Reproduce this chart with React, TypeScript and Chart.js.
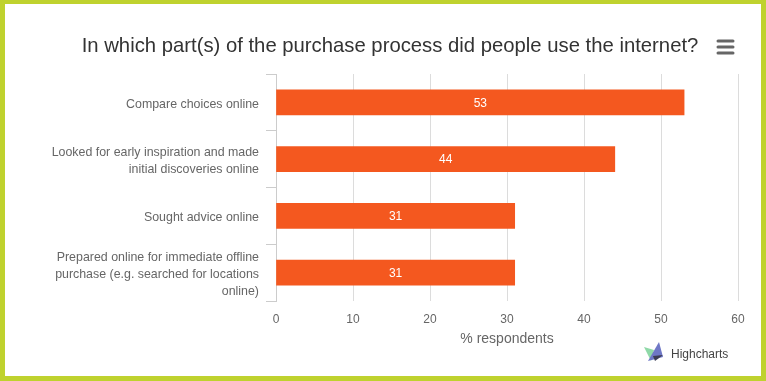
import React, { useEffect, useRef } from "react";
import { Chart, registerables } from "chart.js";

Chart.register(...registerables);

const chartTitle = "In which part(s) of the purchase process did people use the internet?";
const categories: string[][] = [
  ["Compare choices online"],
  ["Looked for early inspiration and made", "initial discoveries online"],
  ["Sought advice online"],
  ["Prepared online for immediate offline", "purchase (e.g. searched for locations", "online)"],
];
const values = [53, 44, 31, 31];
const xMin = 0;
const xMax = 60;
const xStep = 10;
const xAxisTitle = "% respondents";
const creditText = "Highcharts";

const FONT = "'Liberation Sans', Arial, sans-serif";
const BAR_COLOR = "#F4581F";

const decorPlugin = {
  id: "decor",
  afterDraw(chart: any) {
    const ctx = chart.ctx;
    ctx.save();
    // title
    ctx.fillStyle = "#333333";
    ctx.font = `20.3px ${FONT}`;
    ctx.textAlign = "center";
    ctx.textBaseline = "alphabetic";
    ctx.fillText(chartTitle, 390, 52);
    // menu icon
    ctx.strokeStyle = "#666666";
    ctx.lineWidth = 3;
    ctx.lineCap = "round";
    [41, 47, 53].forEach((y) => {
      ctx.beginPath();
      ctx.moveTo(718, y);
      ctx.lineTo(733, y);
      ctx.stroke();
    });
    // credits logo
    ctx.fillStyle = "#8fd9a8";
    ctx.beginPath();
    ctx.moveTo(644, 347);
    ctx.lineTo(654, 350);
    ctx.lineTo(651, 361);
    ctx.closePath();
    ctx.fill();
    ctx.fillStyle = "#6f78c6";
    ctx.beginPath();
    ctx.moveTo(648, 361);
    ctx.lineTo(659, 342);
    ctx.lineTo(663, 357);
    ctx.closePath();
    ctx.fill();
    ctx.fillStyle = "#3d3d55";
    ctx.beginPath();
    ctx.moveTo(653, 356);
    ctx.lineTo(663, 355);
    ctx.lineTo(655, 361);
    ctx.closePath();
    ctx.fill();
    // credits text
    ctx.fillStyle = "#444444";
    ctx.font = `12px ${FONT}`;
    ctx.textAlign = "left";
    ctx.fillText(creditText, 671, 358);
    ctx.restore();
  },
};

const barLabelPlugin = {
  id: "barLabels",
  afterDatasetsDraw(chart: any) {
    const ctx = chart.ctx;
    const meta = chart.getDatasetMeta(0);
    ctx.save();
    ctx.fillStyle = "#ffffff";
    ctx.font = `12px ${FONT}`;
    ctx.textAlign = "center";
    ctx.textBaseline = "middle";
    meta.data.forEach((bar: any, i: number) => {
      const cx = (bar.x + bar.base) / 2;
      ctx.fillText(String(chart.data.datasets[0].data[i]), cx, bar.y + 1);
    });
    ctx.restore();
  },
};

export default function App() {
  const ref = useRef<HTMLCanvasElement>(null);
  useEffect(() => {
    if (!ref.current) return;
    const chart = new Chart(ref.current, {
      type: "bar",
      data: {
        labels: categories,
        datasets: [
          {
            data: values,
            backgroundColor: BAR_COLOR,
            borderWidth: 0,
            barThickness: 25,
          },
        ],
      },
      options: {
        indexAxis: "y",
        responsive: false,
        animation: false,
        layout: { padding: { left: 0, right: 28, top: 74, bottom: 0 } },
        plugins: {
          legend: { display: false },
          tooltip: { enabled: false },
          title: { display: false },
        },
        scales: {
          x: {
            min: xMin,
            max: xMax,
            ticks: {
              stepSize: xStep,
              color: "#666666",
              font: { family: FONT, size: 12 },
              padding: 11,
            },
            grid: {
              color: "#dcdcdc",
              drawTicks: false,
            },
            border: { display: false },
            title: {
              display: true,
              text: xAxisTitle,
              color: "#666666",
              font: { family: FONT, size: 14 },
              padding: { top: 0, bottom: 33 },
            },
            afterFit: (scale: any) => {
              scale.height = 80;
            },
          },
          y: {
            ticks: {
              color: "#666666",
              font: { family: FONT, size: 12.4, lineHeight: 1.35 },
              padding: 7,
              labelOffset: 2,
            },
            grid: {
              offset: true,
              drawOnChartArea: false,
              drawTicks: true,
              tickLength: 10,
              color: "#cccccc",
            },
            border: { display: true, color: "#cccccc" },
            afterFit: (scale: any) => {
              scale.width = 276;
            },
          },
        },
      },
      plugins: [barLabelPlugin, decorPlugin],
    } as any);
    return () => chart.destroy();
  }, []);
  return (
    <div style={{ position: "fixed", left: 0, top: 0, width: 766, height: 381, background: "#ffffff" }}>
      <div
        style={{
          position: "absolute",
          left: 0,
          top: 0,
          width: 766,
          height: 381,
          boxSizing: "border-box",
          borderStyle: "solid",
          borderColor: "#BFD22E",
          borderWidth: "4px 5px 5px 5px",
        }}
      />
      <canvas
        ref={ref}
        width={766}
        height={381}
        style={{ position: "absolute", left: 0, top: 0, width: 766, height: 381 }}
      />
    </div>
  );
}
